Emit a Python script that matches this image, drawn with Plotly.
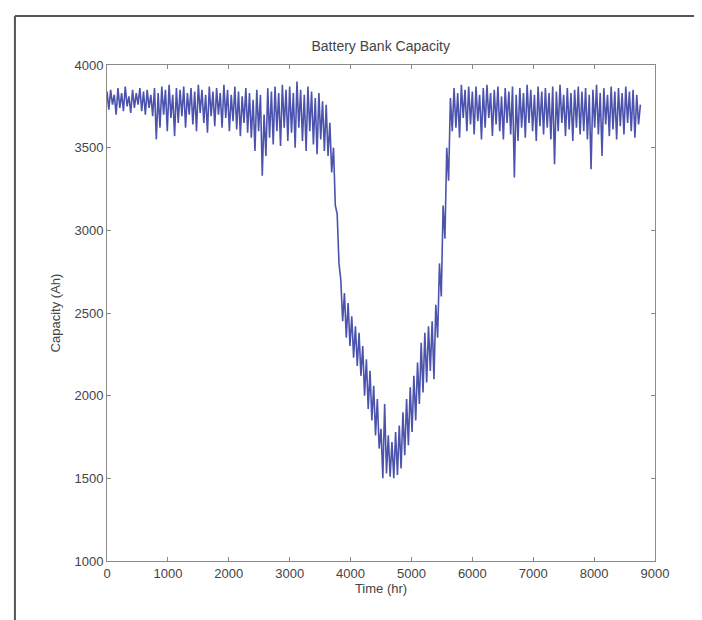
import plotly.graph_objects as go

# ── Data (one sample every 30 hr) ─────────────────────────────────────
SAMPLE_STEP_HR = 30
capacity_ah = [
    # 0 - 570 hr
    3840, 3730, 3850, 3760, 3820, 3700, 3860, 3740, 3830, 3720,
    3870, 3750, 3810, 3710, 3850, 3740, 3830, 3760, 3860, 3720,
    # 600 - 1170 hr
    3840, 3700, 3850, 3740, 3820, 3690, 3860, 3550, 3830, 3620,
    3870, 3700, 3850, 3600, 3880, 3680, 3820, 3570, 3860, 3650,
    # 1200 - 1770 hr
    3850, 3690, 3870, 3620, 3830, 3700, 3860, 3640, 3840, 3600,
    3880, 3710, 3850, 3650, 3820, 3590, 3870, 3690, 3840, 3630,
    # 1800 - 2370 hr
    3860, 3700, 3830, 3620, 3880, 3680, 3850, 3600, 3820, 3660,
    3870, 3610, 3840, 3570, 3810, 3650, 3860, 3590, 3830, 3560,
    # 2400 - 2970 hr
    3790, 3480, 3850, 3600, 3820, 3330, 3700, 3450, 3860, 3560,
    3840, 3520, 3870, 3600, 3830, 3510, 3880, 3620, 3850, 3540,
    # 3000 - 3570 hr
    3870, 3590, 3830, 3500, 3900, 3620, 3850, 3540, 3820, 3480,
    3870, 3600, 3840, 3520, 3800, 3460, 3830, 3550, 3780, 3480,
    # 3600 - 4170 hr
    3760, 3450, 3650, 3350, 3500, 3150, 3100, 2800, 2700, 2450,
    2620, 2350, 2560, 2300, 2480, 2230, 2420, 2180, 2380, 2120,
    # 4200 - 4770 hr
    2300, 2000, 2220, 1920, 2150, 1850, 2060, 1760, 1980, 1680,
    1800, 1500, 1950, 1530, 1760, 1510, 1720, 1500, 1780, 1520,
    # 4800 - 5370 hr
    1820, 1560, 1900, 1640, 1980, 1700, 2050, 1780, 2120, 1850,
    2200, 1950, 2320, 2020, 2380, 2080, 2420, 2150, 2450, 2100,
    # 5400 - 5970 hr
    2550, 2350, 2800, 2600, 3150, 2950, 3500, 3300, 3800, 3600,
    3860, 3620, 3830, 3560, 3880, 3680, 3850, 3600, 3870, 3640,
    # 6000 - 6570 hr
    3840, 3580, 3870, 3660, 3820, 3550, 3860, 3620, 3880, 3680,
    3830, 3570, 3850, 3640, 3870, 3600, 3810, 3550, 3860, 3650,
    # 6600 - 7170 hr
    3840, 3580, 3870, 3320, 3820, 3540, 3860, 3620, 3830, 3560,
    3880, 3650, 3850, 3600, 3820, 3540, 3870, 3630, 3840, 3580,
    # 7200 - 7770 hr
    3860, 3620, 3830, 3550, 3870, 3400, 3840, 3600, 3880, 3650,
    3820, 3570, 3860, 3610, 3830, 3540, 3850, 3620, 3870, 3580,
    # 7800 - 8370 hr
    3840, 3600, 3860, 3550, 3820, 3370, 3850, 3620, 3880, 3580,
    3830, 3450, 3860, 3640, 3820, 3570, 3870, 3610, 3840, 3550,
    # 8400 - 8760 hr
    3860, 3630, 3830, 3580, 3870, 3650, 3840, 3600, 3850, 3560,
    3820, 3640, 3760,
]
time_hr = [i * SAMPLE_STEP_HR for i in range(len(capacity_ah))]

x_ticks = [0, 1000, 2000, 3000, 4000, 5000, 6000, 7000, 8000, 9000]
y_ticks = [1000, 1500, 2000, 2500, 3000, 3500, 4000]

# ── Style ─────────────────────────────────────────────────────────────
LINE_BLUE = '#4c53ad'
AXIS_GRAY = '#8a8a8a'
TEXT_GRAY = '#444444'
FRAME_DARK = '#555555'
FONT = 'Liberation Sans, Arial, sans-serif'

fig = go.Figure()

fig.add_trace(go.Scatter(
    x=time_hr,
    y=capacity_ah,
    mode='lines',
    line=dict(color=LINE_BLUE, width=1.6),
    showlegend=False,
))

axis_common = dict(
    showgrid=False,
    zeroline=False,
    showline=True,
    linecolor=AXIS_GRAY,
    linewidth=1,
    mirror='ticks',
    ticks='inside',
    ticklen=4,
    tickcolor=AXIS_GRAY,
    tickfont=dict(family=FONT, size=13, color=TEXT_GRAY),
)

fig.update_xaxes(
    range=[0, 9000],
    tickvals=x_ticks,
    title=dict(text='Time (hr)', font=dict(family=FONT, size=13, color=TEXT_GRAY),
               standoff=4),
    **axis_common,
)
fig.update_yaxes(
    range=[1000, 4000],
    tickvals=y_ticks,
    title=dict(text='Capacity (Ah)', font=dict(family=FONT, size=13, color=TEXT_GRAY),
               standoff=10),
    **axis_common,
)

# scanned page border (left and top edges)
fig.add_shape(type='line', xref='paper', yref='paper',
              x0=-0.168, x1=-0.168, y0=1.099, y1=-0.14,
              line=dict(color=FRAME_DARK, width=2))
fig.add_shape(type='line', xref='paper', yref='paper',
              x0=-0.168, x1=1.11, y0=1.099, y1=1.099,
              line=dict(color=FRAME_DARK, width=2))

fig.update_layout(
    width=702,
    height=620,
    margin=dict(l=99, r=55, t=57, b=67),
    title=dict(text='Battery Bank Capacity', x=0.531, xanchor='center',
               y=1 - 38 / 620, yanchor='middle',
               font=dict(family=FONT, size=14, color=TEXT_GRAY)),
    plot_bgcolor='white',
    paper_bgcolor='white',
)

fig.write_html('out.html')
